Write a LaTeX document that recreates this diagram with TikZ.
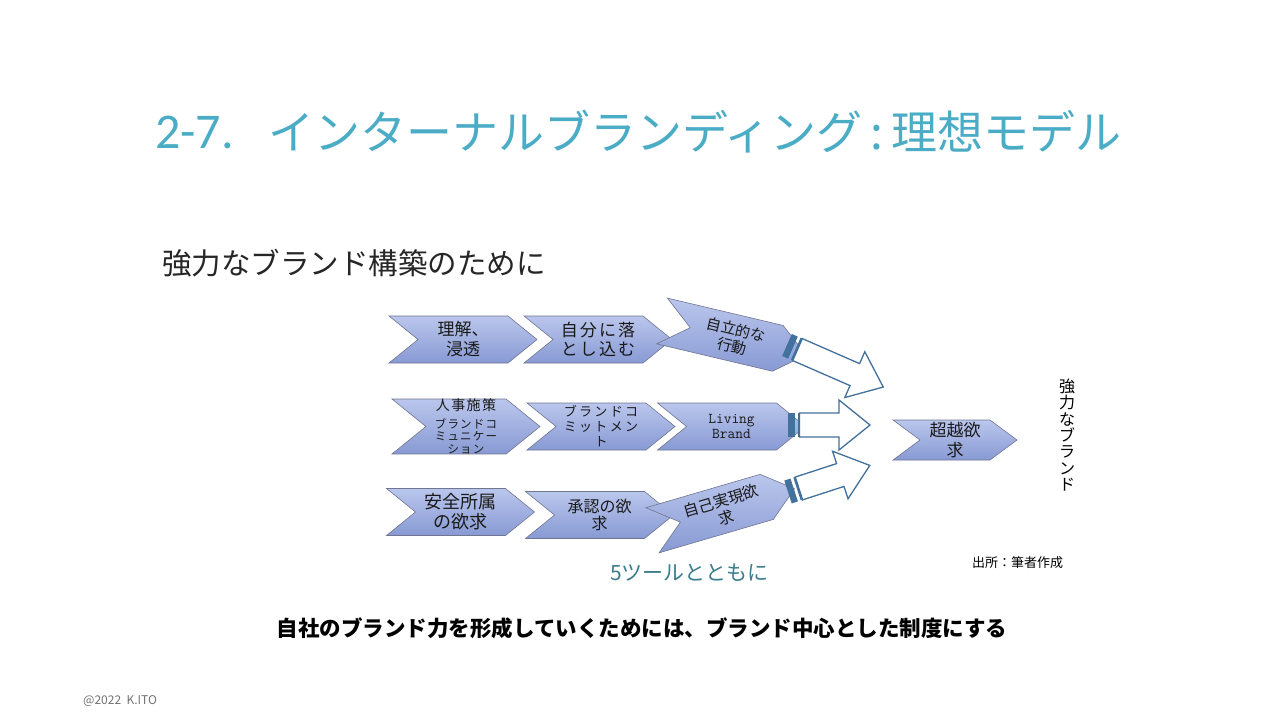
\documentclass[tikz,border=0pt]{standalone}
\usepackage{fontspec}
\setmainfont{Noto Sans CJK JP}
\newfontfamily\numfont{Carlito}
\usetikzlibrary{shapes.symbols}

\definecolor{titleblue}{RGB}{75,172,198}
\definecolor{chevtop}{RGB}{186,198,236}
\definecolor{chevbot}{RGB}{136,154,212}
\definecolor{chevline}{RGB}{112,118,146}
\definecolor{arrowblue}{RGB}{65,113,156}
\definecolor{tooltext}{RGB}{58,125,140}
\definecolor{bodytext}{RGB}{38,38,38}

\tikzset{
  chev/.style={signal, signal from=west, signal to=east, signal pointer angle=78,
    minimum width=148, minimum height=47, inner sep=0pt, draw=chevline, line width=0.6pt,
    top color=chevtop, bottom color=chevbot, align=center, text=black!90,
    font=\fontsize{17}{20}\selectfont},
  block/.style={draw=arrowblue, line width=1.3pt, fill=white, line join=miter},
}

\begin{document}
\begin{tikzpicture}[x=1pt,y=-1pt]
  \useasboundingbox (0,0) rectangle (1280,720);
  \fill[white] (0,0) rectangle (1280,720);

  % Title
  \node[anchor=west, inner sep=0pt, text=titleblue, font=\numfont\fontsize{50}{50}\selectfont] (tnum) at (155,132) {2-7.};
  \node[anchor=west, inner sep=0pt, text=titleblue, font=\fontsize{46}{46}\selectfont] (ttext) at (268,132) {インターナルブランディング\,:\,理想モデル};
  \node[anchor=west, inner sep=0pt, text=bodytext, font=\fontsize{29.5}{30}\selectfont] (sub) at (162,263) {強力なブランド構築のために};

  % Chevrons, row 1
  \node[chev] (rikai) at (463,339.5) {理解、\\浸透};
  \node[chev, font=\fontsize{17}{19}\selectfont\addfontfeatures{LetterSpace=12}] (ochi) at (598,339.5) {自分に落\\とし込む};
  \node[chev, rotate=-13.3, font=\fontsize{15}{17}\selectfont] (jiritsu) at (734,338) {自立的な\\行動};

  % Chevrons, row 2
  \node[chev, font=\fontsize{11.5}{12.5}\selectfont\addfontfeatures{LetterSpace=10}] (jinji) at (466,426.5) {{\fontsize{14}{14}\selectfont 人事施策}\\[5pt]ブランドコ\\ミュニケー\\ション};
  \node[chev, font=\fontsize{13}{15}\selectfont\addfontfeatures{LetterSpace=18}] (commit) at (601,426.5) {ブランドコ\\ミットメン\\ト};
  \node[chev, font=\ttfamily\fontsize{15}{14.5}\selectfont\addfontfeatures{LetterSpace=8}] (living) at (731.5,426.5) {Living\\Brand};

  % Chevrons, row 3
  \node[chev, font=\fontsize{18}{20}\selectfont] (anzen) at (460.5,512) {安全所属\\の欲求};
  \node[chev, font=\fontsize{16}{17}\selectfont] (shonin) at (599.5,515) {承認の欲\\求};
  \node[chev, rotate=16.3, font=\fontsize{15.5}{18}\selectfont] (jiko) at (723.5,509.5) {自己実現欲\\求};

  % Goal
  \node[chev, minimum width=124, minimum height=40, signal pointer angle=73] (choetsu) at (955,440) {超越欲\\求};

  % Striped block arrows
  \foreach \tx/\ty/\ang/\len in {787/345/-23.6/105, 788/425/0/82, 788/492/18/86} {
    \begin{scope}[shift={(\tx,\ty)}, rotate=\ang]
      \fill[arrowblue] (0,-12) rectangle (6.5,12);
      \fill[arrowblue] (9.5,-12) rectangle (11.5,12);
      \draw[block] (11.5,-12) -- ({\len-31},-12) -- ({\len-31},-25) -- (\len,0)
        -- ({\len-31},25) -- ({\len-31},12) -- (11.5,12) -- cycle;
    \end{scope}
  }

  % Side texts
  \node[align=center, inner sep=0pt, font=\fontsize{16}{16.3}\selectfont] (strong) at (1067,435) {強\\力\\な\\ブ\\ラ\\ン\\ド};
  \node[anchor=west, inner sep=0pt, text=tooltext, font=\fontsize{21}{21}\selectfont] (tools) at (610,573) {5ツールとともに};
  \node[anchor=west, inner sep=0pt, font=\fontsize{13}{13}\selectfont] (source) at (972,563) {出所：筆者作成};
  \node[inner sep=0pt, font=\bfseries\fontsize{21.5}{22}\selectfont] (concl) at (642,628) {自社のブランド力を形成していくためには、ブランド中心とした制度にする};
  \node[anchor=west, inner sep=0pt, text=black!55, font=\fontsize{12}{12}\selectfont] (foot) at (83,701) {@2022\ \ K.ITO};
\end{tikzpicture}
\end{document}
